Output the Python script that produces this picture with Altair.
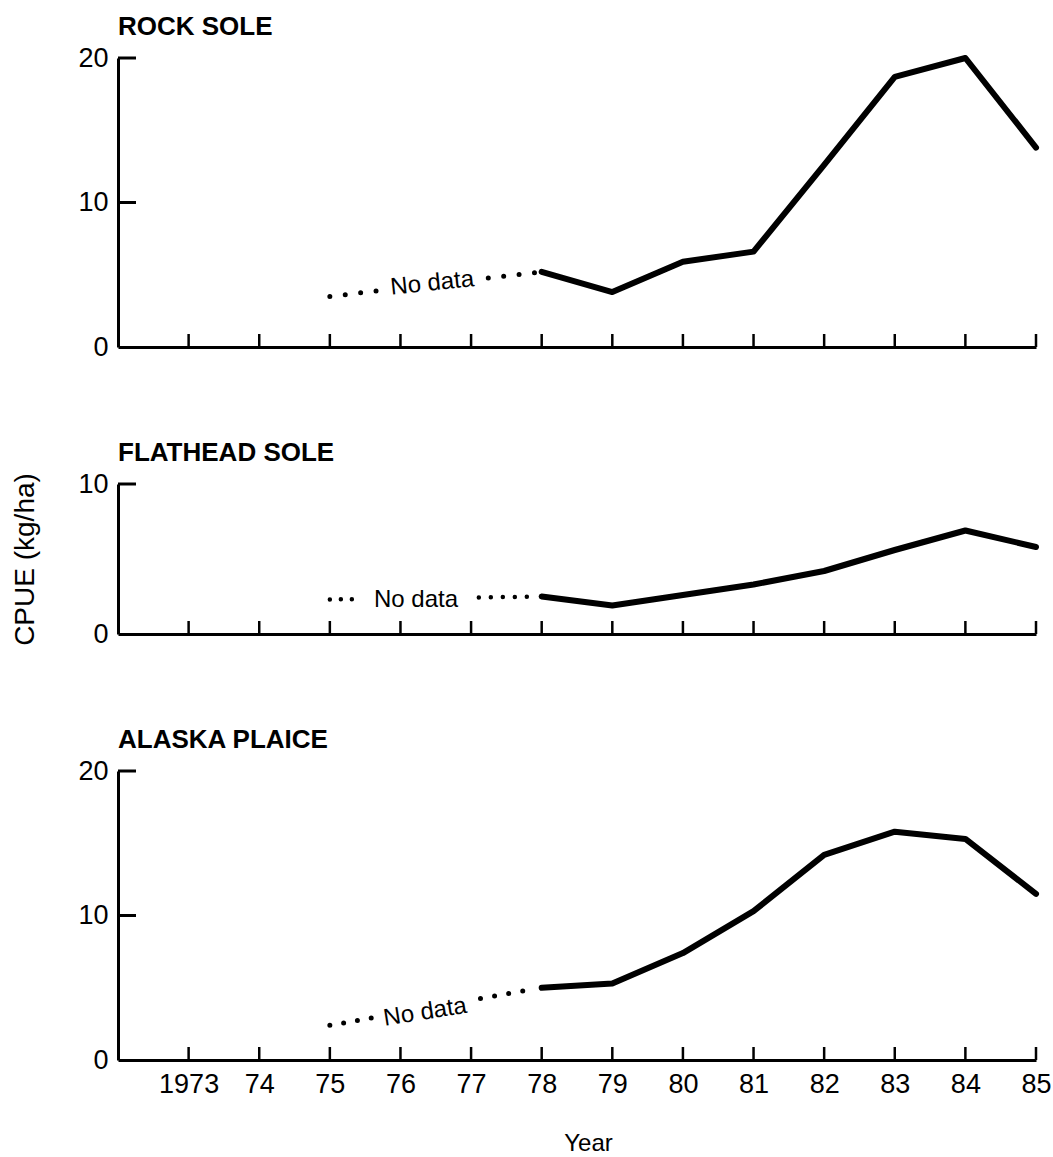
import altair as alt
import pandas as pd

# ---- data ----
years = [1978, 1979, 1980, 1981, 1982, 1983, 1984, 1985]
rock_sole = [5.2, 3.8, 5.9, 6.6, 12.6, 18.7, 20.0, 13.8]
flathead_sole = [2.5, 1.9, 2.6, 3.3, 4.2, 5.6, 6.9, 5.8]
alaska_plaice = [5.0, 5.3, 7.4, 10.3, 14.2, 15.8, 15.3, 11.5]

nodata_years = [1975, 1978]
rock_nodata = [3.5, 5.2]
flathead_nodata = [2.3, 2.5]
plaice_nodata = [2.4, 5.0]

panel_titles = ["ROCK SOLE", "FLATHEAD SOLE", "ALASKA PLAICE"]
y_maxima = [20, 10, 20]
y_tick_values = [[0, 10, 20], [0, 10], [0, 10, 20]]

x_tick_years = [1973, 1974, 1975, 1976, 1977, 1978, 1979, 1980, 1981, 1982, 1983, 1984, 1985]
x_tick_labels = ["1973", "74", "75", "76", "77", "78", "79", "80", "81", "82", "83", "84", "85"]

nodata_label = "No data"
nodata_label_year = [1976.45, 1976.22, 1976.35]
nodata_label_value = [4.4, 2.3, 3.3]

FONT = "Liberation Sans"
W = 918
HEIGHTS = [289, 150, 289]
NODATA_DASH = [
    [0, 15.5, 0, 15.5, 0, 15.5, 0, 113, 0, 15.5, 0, 15.5, 0, 15.5, 0, 100],
    [0, 11, 0, 11, 0, 127, 0, 12, 0, 12, 0, 12, 0, 12, 0, 100],
    [0, 14, 0, 14, 0, 14, 0, 111, 0, 14.3, 0, 14.3, 0, 14.3, 0, 100],
]
NODATA_ANGLE = [354, 0, 351]

label_expr = "''"
for yr, lab in reversed(list(zip(x_tick_years, x_tick_labels))):
    label_expr = f"datum.value == {yr} ? '{lab}' : {label_expr}"


def panel(i, series):
    h = HEIGHTS[i]
    last = i == 2
    if last:
        x_axis = alt.Axis(values=x_tick_years, labelExpr=label_expr, ticks=False, tickSize=0,
                          labelPadding=11, labelFontSize=27, labelFont=FONT, labelColor="black",
                          labelFlush=False, labelOverlap=False,
                          domainWidth=3, domainColor="black", grid=False,
                          title="Year", titleFont=FONT, titleFontSize=24, titleFontWeight="normal",
                          titleColor="black", titlePadding=34, titleX=470)
    else:
        x_axis = alt.Axis(values=x_tick_years, labels=False, ticks=False, tickSize=0,
                          domainWidth=3, domainColor="black", grid=False, title=None)
    common_y = dict(values=y_tick_values[i], ticks=False, tickSize=0, labelPadding=10,
                    labelFontSize=27, labelFont=FONT, labelColor="black", format="d",
                    labelFlush=False, domainWidth=3, domainColor="black", grid=False)
    if i == 1:
        y_axis = alt.Axis(**common_y, title="CPUE (kg/ha)", titleFont=FONT, titleFontSize=28,
                          titleFontWeight="normal", titleColor="black", titlePadding=38)
    else:
        y_axis = alt.Axis(**common_y, title=None)

    xs = alt.Scale(domain=[1972, 1985], nice=False, zero=False)
    ys = alt.Scale(domain=[0, y_maxima[i]], nice=False)
    X = alt.X("year:Q", scale=xs, axis=x_axis)
    Y = alt.Y("value:Q", scale=ys, axis=y_axis)

    obs, nd = series
    df = pd.DataFrame({"year": years, "value": obs})
    dfn = pd.DataFrame({"year": nodata_years, "value": nd})
    dft = pd.DataFrame({"year": [nodata_label_year[i]], "value": [nodata_label_value[i]],
                        "label": [nodata_label]})
    dfx = pd.DataFrame({"year": x_tick_years})
    dfy = pd.DataFrame({"value": [v for v in y_tick_values[i] if v != 0]})

    line = alt.Chart(df).mark_line(color="black", strokeWidth=6, strokeCap="round",
                                   strokeJoin="round").encode(x=X, y=Y)
    dots = alt.Chart(dfn).mark_line(color="black", strokeWidth=5 if i != 1 else 4.5,
                                    strokeCap="round", strokeDash=NODATA_DASH[i]).encode(x=X, y=Y)
    txt = alt.Chart(dft).mark_text(font=FONT, fontSize=24, color="black",
                                   angle=NODATA_ANGLE[i], align="center",
                                   baseline="middle").encode(x=X, y=Y, text="label:N")
    xt = alt.Chart(dfx).mark_rule(color="black", strokeWidth=2.5).encode(
        x=X, y=alt.value(h), y2=alt.value(h - 13))
    yt = alt.Chart(dfy).mark_rule(color="black", strokeWidth=3).encode(
        y=Y, x=alt.value(0), x2=alt.value(18))

    return alt.layer(line, dots, txt, xt, yt).properties(
        width=W, height=h,
        title=alt.TitleParams(text=panel_titles[i], anchor="start", frame="group",
                              font=FONT, fontSize=26, fontWeight="bold", color="black",
                              offset=-17, baseline="alphabetic"),
    )


p1 = panel(0, (rock_sole, rock_nodata))
p2 = panel(1, (flathead_sole, flathead_nodata))
p3 = panel(2, (alaska_plaice, plaice_nodata))

chart = alt.vconcat(p1, p2, p3, spacing=80).properties(
    padding={"left": 11, "top": 14, "right": 0, "bottom": 0},
    background="white",
).configure_view(stroke=None)

chart.save("out.html", embed_options={"renderer": "svg", "actions": False})
